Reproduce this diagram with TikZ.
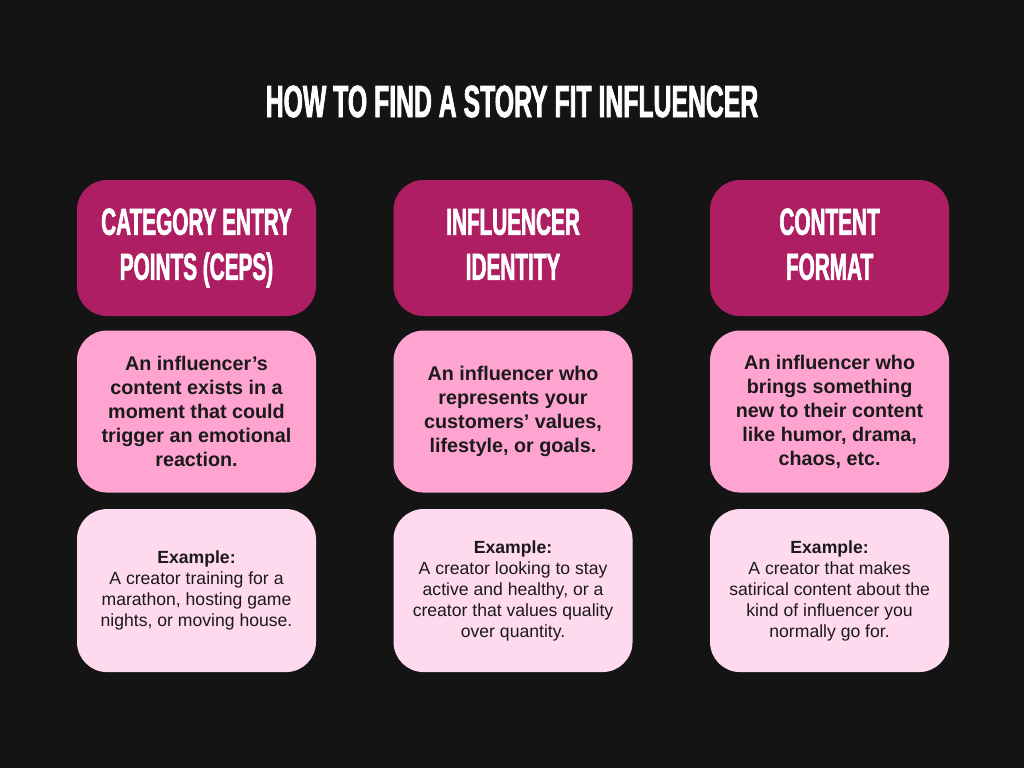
\documentclass[tikz,border=0pt]{standalone}
\usepackage{fontspec}
\setmainfont{Liberation Sans}
\newfontfamily\hdfont{Liberation Sans}[FakeStretch=0.55, FakeBold=1.6]
\usetikzlibrary{positioning}
\definecolor{pagebg}{HTML}{141414}
\definecolor{headpink}{HTML}{AD1F62}
\definecolor{midpink}{HTML}{FFA3D1}
\definecolor{lowpink}{HTML}{FFD9ED}
\definecolor{inkdark}{HTML}{1A1A1A}

\begin{document}
\begin{tikzpicture}[
  x=0.75pt, y=-0.75pt,
  card/.style={rounded corners=22.5pt, align=center, inner sep=0pt,
    minimum width=179.25pt},
  headcard/.style={card, fill=headpink, text=white, minimum height=102pt,
    font=\hdfont\bfseries\fontsize{28.3}{33.75}\selectfont},
  midcard/.style={card, fill=midpink, text=inkdark, minimum height=121.5pt,
    font=\bfseries\fontsize{14.8}{18}\selectfont},
  lowcard/.style={card, fill=lowpink, text=inkdark, minimum height=122.25pt,
    font=\fontsize{13.2}{15.75}\selectfont}]
% page
\fill[pagebg] (0,0) rectangle (1024,768);
\useasboundingbox (0,0) rectangle (1024,768);
\node[text=white, font=\hdfont\bfseries\fontsize{33.8}{40}\selectfont] (title)
  at (512,101.5) {HOW TO FIND A STORY FIT INFLUENCER};
% header row
\node[headcard] (hcep) at (196.5,248) {CATEGORY ENTRY\\POINTS (CEPS)\vphantom{Y}};
\node[headcard, right=57.75pt of hcep] (hid) {INFLUENCER\\IDENTITY\vphantom{()}};
\node[headcard, right=57.75pt of hid] (hfmt) {CONTENT\\FORMAT\vphantom{()}};
% description row
\node[midcard, below=10.5pt of hcep] (dcep)
  {An influencer’s\\content exists in a\\moment that could\\trigger an emotional\\reaction.};
\node[midcard, below=10.5pt of hid] (did)
  {An influencer who\\represents your\\customers’ values,\\lifestyle, or goals.};
\node[midcard, below=10.5pt of hfmt] (dfmt)
  {An influencer who\\brings something\\new to their content\\like humor, drama,\\chaos, etc.};
% example row
\node[lowcard, below=12pt of dcep] (ecep)
  {\textbf{Example:}\\A creator training for a\\marathon, hosting game\\nights, or moving house.};
\node[lowcard, below=12pt of did] (eid)
  {\textbf{Example:}\\A creator looking to stay\\active and healthy, or a\\creator that values quality\\over quantity.};
\node[lowcard, below=12pt of dfmt] (efmt)
  {\textbf{Example:}\\A creator that makes\\satirical content about the\\kind of influencer you\\normally go for.};
\end{tikzpicture}
\end{document}
